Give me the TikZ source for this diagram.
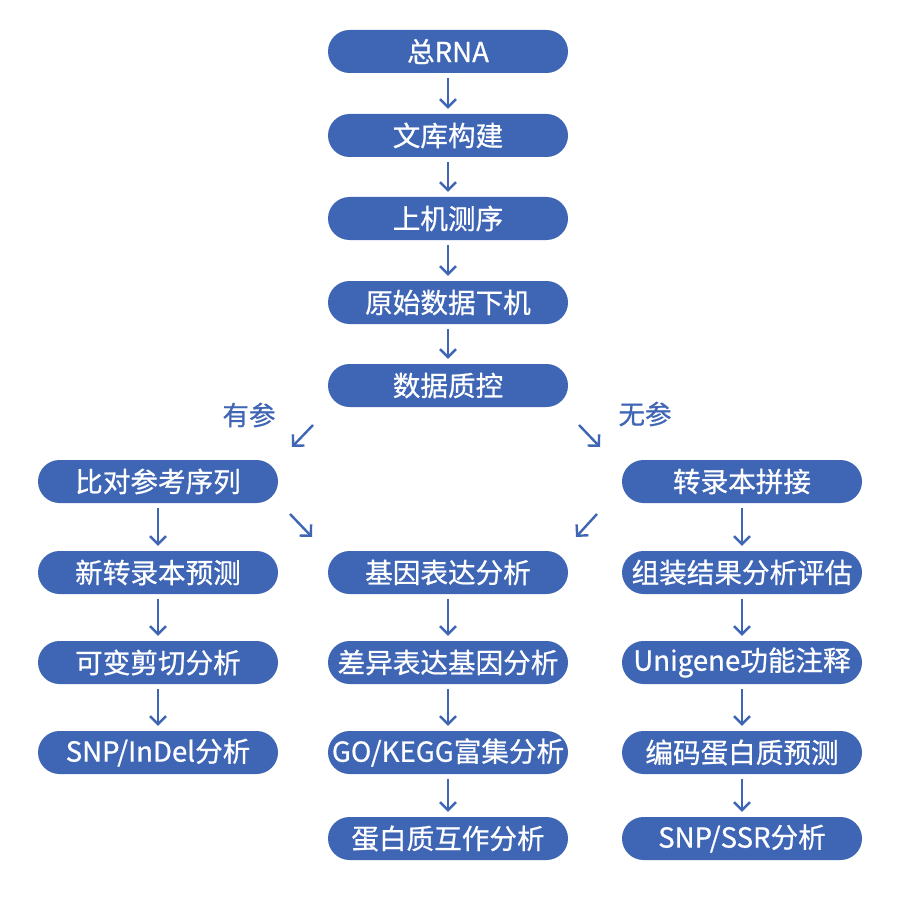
\documentclass[tikz,border=0pt]{standalone}
\usepackage{fontspec}
\setmainfont{Noto Sans CJK SC}
\newfontfamily\medfont[FakeBold=0.7]{Noto Sans CJK SC}
\usetikzlibrary{arrows.meta,calc}
\definecolor{pblue}{HTML}{3F65B5}
\begin{document}
\begin{tikzpicture}[x=1pt,y=-1pt,
  box/.style={fill=pblue,text=white,rounded corners=21.5pt,minimum width=240pt,minimum height=43pt,inner sep=0pt,font=\medfont\fontsize{27.6}{30}\selectfont},
  lbl/.style={text=pblue,inner sep=0pt,font=\medfont\fontsize{26.5}{30}\selectfont},
  arr/.style={draw=pblue,line width=2.4pt,-{Straight Barb[length=8pt,width=16pt,line width=2.4pt]}},
  varr/.style={arr,shorten <=5pt,shorten >=5pt}]
\useasboundingbox (0,0) rectangle (900,901);
\fill[white] (0,0) rectangle (900,901);
% center column
\node[box] (rna) at (448,51.5) {总RNA};
\node[box] (lib) at (448,135.5) {文库构建};
\node[box] (seq) at (448,218.5) {上机测序};
\node[box] (raw) at (448,302.5) {原始数据下机};
\node[box] (qc) at (448,385.5) {数据质控};
\node[box] (ge) at (448,572.5) {基因表达分析};
\node[box] (deg) at (448,662.5) {差异表达基因分析};
\node[box] (go) at (448,752.5) {GO/KEGG富集分析};
\node[box] (ppi) at (448,838.5) {蛋白质互作分析};
% left column
\node[box] (ref) at (158,481.5) {比对参考序列};
\node[box] (nt) at (158,572.5) {新转录本预测};
\node[box] (as) at (158,662.5) {可变剪切分析};
\node[box] (snp) at (158,752.5) {SNP/InDel分析};
% right column
\node[box] (asm) at (742,481.5) {转录本拼接};
\node[box] (eval) at (742,572.5) {组装结果分析评估};
\node[box] (uni) at (742,662.5) {Unigene功能注释};
\node[box] (cds) at (742,752.5) {编码蛋白质预测};
\node[box] (ssr) at (742,838.5) {SNP/SSR分析};
% labels
\node[lbl] (yc) at (249,415) {有参};
\node[lbl] (wc) at (645,414) {无参};
% vertical arrows
\draw[varr] (rna) -- (lib);
\draw[varr] (lib) -- (seq);
\draw[varr] (seq) -- (raw);
\draw[varr] (raw) -- (qc);
\draw[varr] (ge) -- (deg);
\draw[varr] (deg) -- (go);
\draw[varr] (go) -- (ppi);
\draw[varr] (ref) -- (nt);
\draw[varr] (nt) -- (as);
\draw[varr] (as) -- (snp);
\draw[varr] (asm) -- (eval);
\draw[varr] (eval) -- (uni);
\draw[varr] (uni) -- (cds);
\draw[varr] (cds) -- (ssr);
% diagonal arrows
\coordinate (d1s) at (313,425); \coordinate (d1e) at (292,447);
\coordinate (d2s) at (579,425); \coordinate (d2e) at (600,447);
\coordinate (d3s) at (290,514); \coordinate (d3e) at (312,537);
\coordinate (d4s) at (597,514); \coordinate (d4e) at (576,537);
\draw[arr] (d1s) -- (d1e);
\draw[arr] (d2s) -- (d2e);
\draw[arr] (d3s) -- (d3e);
\draw[arr] (d4s) -- (d4e);
\end{tikzpicture}
\end{document}
